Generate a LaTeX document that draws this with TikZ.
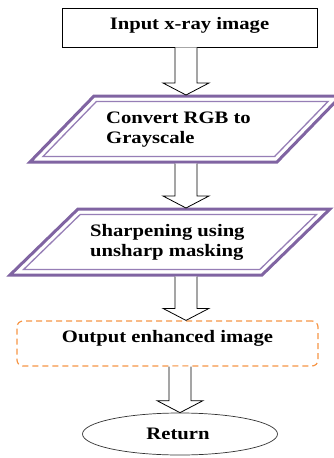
\documentclass[tikz,border=0pt]{standalone}
\usepackage{fontspec}
\setmainfont{Liberation Serif}[FakeStretch=1.18]
\usetikzlibrary{calc,shapes.geometric}
\definecolor{purp}{RGB}{128,100,162}
\definecolor{purpl}{RGB}{150,126,182}
\definecolor{orng}{RGB}{247,150,70}
\tikzset{
  txt/.style={font=\fontsize{17.5}{20}\selectfont\bfseries, inner sep=0pt, align=left},
  paraout/.style={draw=purp, line width=3pt, line join=miter, fill=white},
  parain/.style={draw=purpl, line width=1.3pt, line join=miter},
  blockarrow/.style={draw=black, line width=0.8pt, fill=white, line join=miter},
}
\newcommand\blockarr[2]{%
  \draw[blockarrow] let \p1=(#1), \p2=(#2) in
    (\x1-11pt,\y1) -- (\x1-11pt,\y2+12pt) -- (\x1-23pt,\y2+12pt) -- (\x2,\y2)
    -- (\x1+23pt,\y2+12pt) -- (\x1+11pt,\y2+12pt) -- (\x1+11pt,\y1);}
\begin{document}
\begin{tikzpicture}[x=1pt,y=-1pt]
\useasboundingbox[fill=white] (0,0) rectangle (333,458);
% box 1
\node[draw=black, line width=0.8pt, minimum width=255pt, minimum height=39pt, inner sep=0pt] (n1) at (189.5,27.5) {};
\node[txt] (n1t) at (189.5,25) {Input x-ray image};
% parallelogram 1
\draw[paraout] (94,96) -- (341,96) -- (277,162) -- (30,162) -- cycle;
\draw[parain] (96.4,101.5) -- (328,101.5) -- (274.6,156.5) -- (43,156.5) -- cycle;
\coordinate (p1top) at (186,95);
\coordinate (p1bot) at (186,163.5);
\node[txt, anchor=west] (p1) at (106,129.5) {Convert RGB to\\Grayscale};
% parallelogram 2
\draw[paraout] (78,209) -- (330,209) -- (262,275) -- (10,275) -- cycle;
\draw[parain] (80.2,214.5) -- (316.4,214.5) -- (259.8,269.5) -- (23.6,269.5) -- cycle;
\coordinate (p2top) at (186,208);
\coordinate (p2bot) at (186,276.5);
\node[txt, anchor=west] (p2) at (90,242.5) {Sharpening using\\unsharp masking};
% output box
\node[draw=orng, line width=1.2pt, dash pattern=on 6pt off 4pt, rounded corners=6pt,
      minimum width=301pt, minimum height=45pt, inner sep=0pt] (n4) at (167.5,343.5) {};
\node[txt] (n4t) at (167.5,338) {Output enhanced image};
% return
\node[ellipse, draw=black!80, line width=0.7pt, minimum width=195pt, minimum height=42pt, inner sep=0pt] (ret) at (180,434) {};
\node[txt] (rett) at (178,433.5) {Return};
% arrows
\blockarr{n1.south -| p1top}{p1top}
\blockarr{p1bot}{p2top}
\blockarr{p2bot}{n4.north -| p2bot}
\blockarr{n4.south -| ret.north}{ret.north}
\end{tikzpicture}
\end{document}
